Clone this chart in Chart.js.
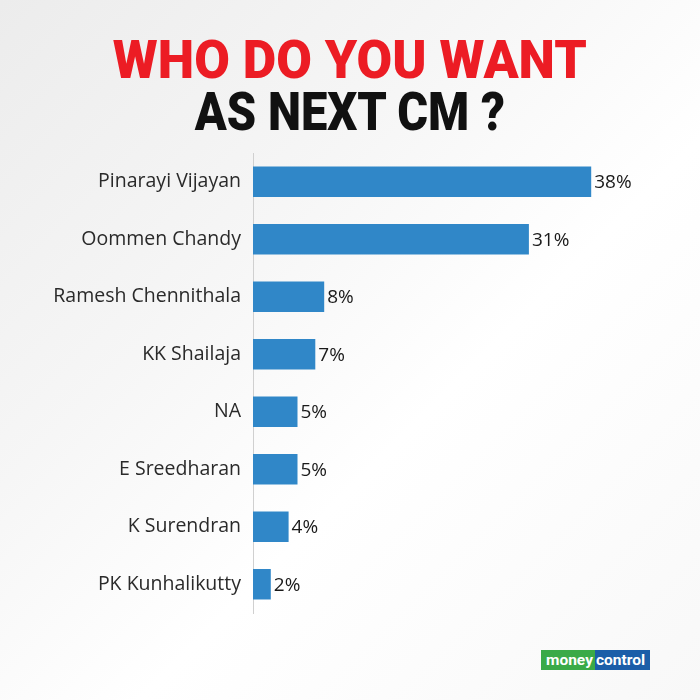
<!DOCTYPE html>
<html><head><meta charset="utf-8">
<script src="https://cdn.jsdelivr.net/npm/chart.js@4"></script>
<style>
html,body{margin:0;padding:0;}
body{width:700px;height:700px;position:relative;overflow:hidden;
background:linear-gradient(135deg,#ececec 0%,#f6f6f6 35%,#ffffff 60%,#f8f8f8 100%);font-family:"Open Sans",sans-serif;}
.t{position:absolute;left:0;width:700px;text-align:center;font-family:"Roboto",sans-serif;font-weight:900;white-space:nowrap;line-height:1;}
.t span{display:inline-block;transform-origin:center;}
#t1{top:34px;color:#ec1c24;font-size:53px;}
#t2{top:86px;color:#111;font-size:53px;}
#c{position:absolute;left:0;top:0;}
#logo{position:absolute;left:541px;top:650px;height:20px;display:flex;font-family:"Roboto",sans-serif;font-weight:700;font-size:15.5px;line-height:20px;color:#fff;}
#logo .g{background:#3aaa48;padding:0 2px 0 5px;}
#logo .b{background:#1b5ea8;padding:0 5px 0 1px;}
</style></head>
<body>
<div class="t" id="t1"><span id="s1">WHO DO YOU WANT</span></div>
<div class="t" id="t2"><span id="s2">AS NEXT CM ?</span></div>
<canvas id="c" width="700" height="700"></canvas>
<div id="logo"><span class="g">money</span><span class="b">control</span></div>
<script>
const categories = ["Pinarayi Vijayan","Oommen Chandy","Ramesh Chennithala","KK Shailaja","NA","E Sreedharan","K Surendran","PK Kunhalikutty"];
const values = [38,31,8,7,5,5,4,2];
const valueLabels = ["38%","31%","8%","7%","5%","5%","4%","2%"];

function fit(id,w){const s=document.getElementById(id);const r=s.getBoundingClientRect().width;s.style.transform='scaleX('+(w/r)+')';}
fit('s1',474);fit('s2',310);

const labelPlugin={id:'vl',afterDatasetsDraw(chart){
  const ctx=chart.ctx;const meta=chart.getDatasetMeta(0);
  ctx.save();ctx.font='19px "Open Sans", sans-serif';ctx.fillStyle='#1a1a1a';ctx.textBaseline='middle';ctx.textAlign='left';
  meta.data.forEach((el,i)=>{ctx.fillText(valueLabels[i],el.x+3,el.y+1);});
  ctx.restore();
}};

new Chart(document.getElementById('c'),{
  type:'bar',
  data:{labels:categories,datasets:[{data:values,backgroundColor:'#3087c8',borderWidth:0,barPercentage:0.53,categoryPercentage:1}]},
  options:{
    indexAxis:'y',responsive:false,animation:false,
    layout:{padding:{top:153,bottom:87,left:0,right:91}},
    plugins:{legend:{display:false},tooltip:{enabled:false}},
    scales:{
      x:{display:false,min:0,max:40},
      y:{
        afterFit(s){s.width=253;},
        grid:{display:false,drawTicks:false},
        border:{display:true,color:'#d0d0d0',width:1},
        ticks:{padding:12,color:'#2a2a2a',font:{family:'"Open Sans", sans-serif',size:19.5}}
      }
    }
  },
  plugins:[labelPlugin]
});
</script>
</body></html>
